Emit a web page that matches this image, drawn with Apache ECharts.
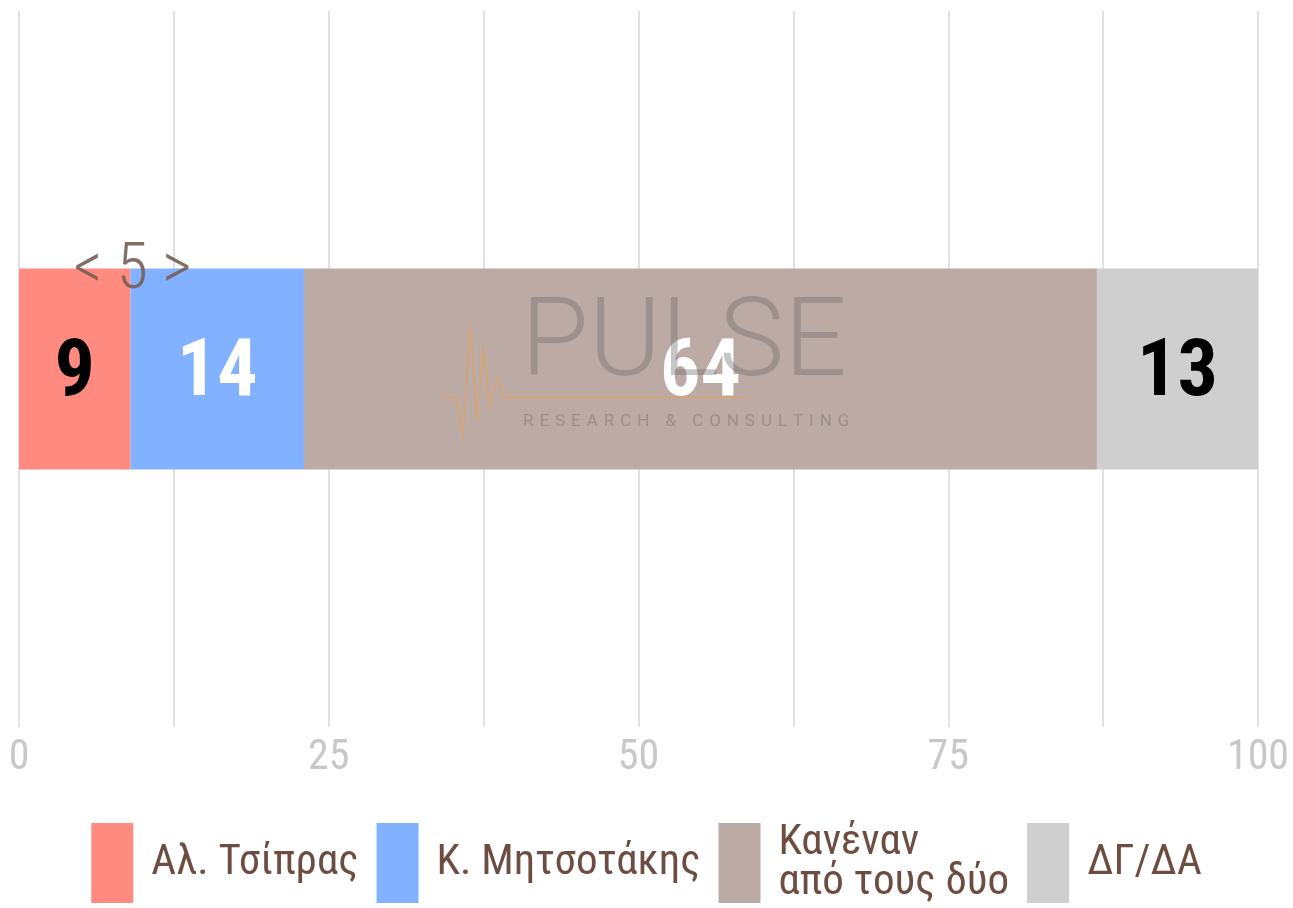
<!DOCTYPE html>
<html>
<head>
<meta charset="utf-8">
<script src="https://cdn.jsdelivr.net/npm/echarts@6/dist/echarts.min.js"></script>
<style>
html, body { margin: 0; padding: 0; background: #fff; }
#chart { width: 1293px; height: 908px; }
</style>
</head>
<body>
<div id="chart"></div>
<script>
// data
const categories = ['Pulse'];
const seriesNames = ['Αλ. Τσίπρας', 'Κ. Μητσοτάκης', 'Κανέναν\nαπό τους δύο', 'ΔΓ/ΔΑ'];
const values = [9, 14, 64, 13];
const tickLabels = [0, 25, 50, 75, 100];

const font = "'Roboto Condensed', 'Liberation Sans Narrow', Roboto, sans-serif";
const colors = ['#ff8a80', '#82b1ff', '#bcaaa4', '#cfcfcf'];
const labelColors = ['#000', '#fff', '#fff', '#000'];

const chart = echarts.init(document.getElementById('chart'));

const option = {
  animation: false,
  grid: { left: 19, right: 35, top: 11, bottom: 181 },
  legend: {
    left: 'center',
    top: 820,
    padding: 0,
    itemWidth: 42,
    itemHeight: 80,
    itemGap: 18,
    icon: 'rect',
    data: seriesNames,
    textStyle: {
      color: '#6d4c41',
      fontSize: 43,
      fontFamily: font,
      lineHeight: 40,
      padding: [6, 0, 0, 13]
    }
  },
  xAxis: {
    type: 'value',
    min: 0,
    max: 100,
    interval: 12.5,
    axisLine: { show: false },
    axisTick: { show: false },
    splitLine: { lineStyle: { color: '#e2e2e2', width: 2 } },
    axisLabel: {
      color: '#c8c8c8',
      fontSize: 42,
      fontFamily: font,
      margin: 10,
      formatter: function (v) {
        return tickLabels.indexOf(v) >= 0 ? String(v) : '';
      }
    }
  },
  yAxis: {
    type: 'category',
    data: categories,
    axisLine: { show: false },
    axisTick: { show: false },
    axisLabel: { show: false },
    splitLine: { show: false }
  },
  series: seriesNames.map(function (name, i) {
    return {
      name: name,
      type: 'bar',
      stack: 'total',
      barWidth: 201,
      data: [values[i]],
      itemStyle: { color: colors[i] },
      label: {
        show: true,
        position: 'inside',
        offset: [0, 6],
        color: labelColors[i],
        fontSize: 80,
        fontWeight: 'bold',
        fontFamily: font
      }
    };
  })
};

chart.setOption(option);

// gap annotation between the first two bars, and the watermark
const gap = values[1] - values[0];
const p = chart.convertToPixel({ gridIndex: 0 }, [values[0], categories[0]]);
const hs = ' \u200a';
chart.setOption({
  graphic: [
    {
      type: 'text',
      z: 10,
      x: p[0] + 2,
      y: p[1] - 97,
      style: {
        text: '< ' + gap + ' >',
        font: '300 64px ' + font,
        fill: 'rgba(118,94,84,0.9)',
        align: 'center',
        verticalAlign: 'middle'
      }
    },
    {
      type: 'polyline',
      z: 10,
      shape: {
        points: [[443, 397], [456, 397], [463, 436], [470, 325], [477, 420], [483, 350], [490, 405], [497, 378], [504, 397], [750, 397]]
      },
      style: { stroke: 'rgba(222,160,100,0.6)', lineWidth: 2, fill: null }
    },
    {
      type: 'text',
      z: 10,
      x: 521,
      y: 292,
      style: {
        text: 'PULSE',
        font: '300 110px Roboto, sans-serif',
        fill: 'rgba(105,105,105,0.38)'
      }
    },
    {
      type: 'text',
      z: 10,
      x: 523,
      y: 413,
      style: {
        text: 'RESEARCH & CONSULTING'.split('').join(hs),
        font: '17px Roboto, sans-serif',
        fill: 'rgba(105,105,105,0.4)'
      }
    }
  ]
});
</script>
</body>
</html>
